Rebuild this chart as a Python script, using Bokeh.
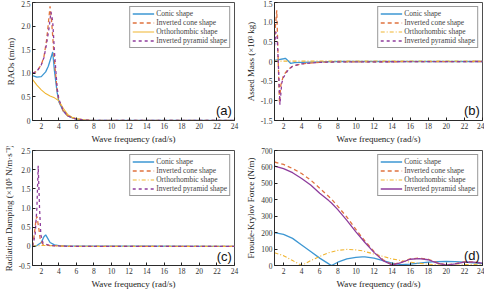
from bokeh.plotting import figure
from bokeh.layouts import gridplot
from bokeh.models import Legend, LegendItem, Range1d, FixedTicker, CustomJSTickFormatter, Label
from bokeh.embed import file_html
from bokeh.resources import INLINE

# ---------------- data ----------------
series_names = ["Conic shape", "Inverted cone shape", "Orthorhombic shape", "Inverted pyramid shape"]
colors = ["#3d97d3", "#e0733f", "#f0b530", "#8e3c9c"]

# (a) RAOs
a_conic_x = [1, 1.5, 2, 2.5, 2.8, 3.1, 3.3, 3.5, 3.8, 4, 4.5, 5, 5.5, 6, 7, 8, 10, 24]
a_conic_y = [0.95, 0.92, 0.93, 1.03, 1.15, 1.33, 1.45, 1.05, 0.6, 0.4, 0.2, 0.1, 0.06, 0.03, 0.01, 0.0, 0.0, 0.0]
a_icone_x = [1, 1.5, 2, 2.3, 2.6, 2.8, 3.0, 3.2, 3.5, 3.8, 4, 4.5, 5, 5.5, 6, 7, 8, 24]
a_icone_y = [1.0, 1.04, 1.18, 1.35, 1.7, 2.05, 2.42, 2.05, 1.25, 0.65, 0.42, 0.2, 0.1, 0.06, 0.03, 0.01, 0.0, 0.0]
a_ortho_x = [1, 1.5, 2, 2.5, 3, 3.5, 4, 4.5, 5, 5.5, 6, 7, 8, 24]
a_ortho_y = [0.87, 0.75, 0.65, 0.57, 0.52, 0.48, 0.42, 0.26, 0.13, 0.07, 0.04, 0.01, 0.0, 0.0]
a_pyr_x = [1, 1.5, 2, 2.3, 2.6, 2.9, 3.1, 3.3, 3.5, 3.8, 4, 4.5, 5, 5.5, 6, 7, 8, 24]
a_pyr_y = [1.0, 1.04, 1.18, 1.33, 1.62, 1.98, 2.3, 2.1, 1.45, 0.7, 0.45, 0.21, 0.1, 0.06, 0.03, 0.01, 0.0, 0.0]

# (b) Added mass
b_conic_x = [1, 1.5, 2, 2.2, 2.5, 2.8, 3.2, 4, 6, 8, 24]
b_conic_y = [0.03, 0.05, 0.07, 0.08, 0.02, -0.05, -0.03, -0.02, -0.01, 0.0, 0.0]
b_icone_x = [1, 1.1, 1.25, 1.35, 1.45, 1.55, 1.7, 2, 2.5, 3, 4, 6, 8, 24]
b_icone_y = [0.5, 0.9, 1.3, 0.5, -0.3, -1.05, -0.6, -0.35, -0.2, -0.12, -0.06, -0.02, -0.01, 0.0]
b_ortho_x = [1, 2, 4, 8, 24]
b_ortho_y = [0.01, 0.01, 0.01, 0.01, 0.01]
b_pyr_x = [1, 1.15, 1.3, 1.45, 1.6, 1.8, 2, 2.5, 3, 4, 6, 8, 24]
b_pyr_y = [0.4, 0.75, 0.6, -0.2, -1.1, -0.55, -0.4, -0.22, -0.12, -0.06, -0.02, -0.01, 0.0]

# (c) Radiation damping
c_conic_x = [1, 1.5, 2, 2.3, 2.5, 2.7, 3, 3.5, 4, 5, 24]
c_conic_y = [0.0, 0.02, 0.1, 0.25, 0.3, 0.22, 0.1, 0.04, 0.02, 0.01, 0.0]
c_icone_x = [1, 1.2, 1.4, 1.5, 1.7, 1.9, 2.2, 3, 5, 24]
c_icone_y = [0.0, 0.3, 0.7, 0.78, 0.5, 0.15, 0.05, 0.02, 0.0, 0.0]
c_ortho_x = [1, 2, 3, 4, 6, 24]
c_ortho_y = [0.01, 0.02, 0.02, 0.01, 0.0, 0.0]
c_pyr_x = [1, 1.3, 1.5, 1.65, 1.8, 1.95, 2.2, 3, 5, 24]
c_pyr_y = [0.0, 0.3, 1.0, 2.1, 1.0, 0.3, 0.08, 0.02, 0.0, 0.0]

# (d) Froude-Krylov force
d_x = [1, 2, 3, 4, 5, 6, 7, 7.3, 8, 9, 10, 10.7, 11, 12, 13, 14, 15, 16, 17, 18, 19, 20, 21, 22, 23, 24]
d_conic_y = [200, 190, 165, 125, 85, 45, 10, 0, 20, 40, 50, 53, 52, 45, 30, 15, 5, 8, 15, 20, 24, 25, 24, 20, 16, 12]
d_icone_y = [630, 615, 590, 560, 520, 470, 420, 405, 360, 295, 220, 170, 150, 85, 35, 5, 20, 40, 45, 38, 18, 3, 12, 22, 22, 15]
d_ortho_y = [78, 60, 30, 0, 30, 55, 78, 82, 92, 98, 95, 90, 85, 70, 55, 40, 30, 20, 13, 8, 4, 1, 2, 5, 7, 8]
d_pyr_y = [605, 590, 565, 530, 490, 440, 395, 380, 340, 275, 205, 160, 140, 80, 30, 3, 18, 38, 42, 35, 15, 2, 10, 20, 20, 15]

FONT = "Liberation Serif"


def make_fig(w, h, ylo, yhi, ystep, ylabel, bl, br, bt, bb, fmt_one_decimal=True):
    p = figure(width=w, height=h, output_backend="svg", toolbar_location=None,
               x_range=Range1d(1, 24), y_range=Range1d(ylo, yhi),
               min_border_left=bl, min_border_right=br, min_border_top=bt, min_border_bottom=bb)
    p.xgrid.visible = False
    p.ygrid.visible = False
    p.outline_line_color = "#222222"
    p.outline_line_width = 0.8
    p.background_fill_color = "white"
    p.border_fill_color = "white"
    p.xaxis.ticker = FixedTicker(ticks=list(range(2, 25, 2)))
    n = int(round((yhi - ylo) / ystep))
    p.yaxis.ticker = FixedTicker(ticks=[ylo + i * ystep for i in range(n + 1)])
    if fmt_one_decimal:
        p.yaxis.formatter = CustomJSTickFormatter(code="return Math.abs(tick) < 1e-9 ? '0' : tick.toFixed(1);")
    for ax in (p.xaxis[0], p.yaxis[0]):
        ax.major_tick_in = 3
        ax.major_tick_out = 0
        ax.minor_tick_in = 0
        ax.minor_tick_out = 0
        ax.axis_line_color = "#222222"
        ax.axis_line_width = 0.8
        ax.major_tick_line_color = "#222222"
        ax.major_label_text_font = FONT
        ax.major_label_text_font_size = "7.5px"
        ax.major_label_text_color = "#333333"
        ax.major_label_standoff = 2
        ax.axis_label_text_font = FONT
        ax.axis_label_text_font_size = "9px"
        ax.axis_label_text_font_style = "normal"
        ax.axis_label_text_color = "#222222"
        ax.axis_label_standoff = 2
    p.xaxis.axis_label = "Wave frequency (rad/s)"
    p.yaxis.axis_label = ylabel
    return p


def add_legend(p, renderers):
    items = [LegendItem(label=n, renderers=[r]) for n, r in zip(series_names, renderers)]
    leg = Legend(items=items, location="top_right")
    leg.label_text_font = FONT
    leg.label_text_font_size = "7.5px"
    leg.label_height = 7
    leg.glyph_height = 7
    leg.glyph_width = 22
    leg.spacing = 0
    leg.padding = 2
    leg.margin = 4
    leg.label_standoff = 2
    leg.border_line_color = "#333333"
    leg.border_line_width = 1
    leg.background_fill_alpha = 1
    p.add_layout(leg)


def add_tag(p, txt, y):
    p.add_layout(Label(x=23.7, y=y, text=txt, text_align="right", text_baseline="bottom",
                       text_font="Liberation Sans", text_font_size="13px", text_color="#111111"))


W = 242
LW = 1.3
# (a)
pa = make_fig(W, 146, 0, 2.5, 0.5, "RAOs (m/m)", 26, 8, 2, 22)
ra = [
    pa.line(a_conic_x, a_conic_y, color=colors[0], line_width=LW),
    pa.line(a_icone_x, a_icone_y, color=colors[1], line_width=LW, line_dash="4 3"),
    pa.line(a_ortho_x, a_ortho_y, color=colors[2], line_width=1.1),
    pa.line(a_pyr_x, a_pyr_y, color=colors[3], line_width=LW, line_dash="3 3"),
]
add_legend(pa, ra)
add_tag(pa, "(a)", 0.06)

# (b)
pb = make_fig(W, 146, -1.5, 1.5, 0.5, "Assed Mass (×10³ kg)", 26, 2, 2, 22)
rb = [
    pb.line(b_conic_x, b_conic_y, color=colors[0], line_width=LW),
    pb.line(b_icone_x, b_icone_y, color=colors[1], line_width=LW, line_dash="4 3"),
    pb.line(b_ortho_x, b_ortho_y, color=colors[2], line_width=1.1, line_dash="4 2 1 2"),
    pb.line(b_pyr_x, b_pyr_y, color=colors[3], line_width=LW, line_dash="3 3"),
]
add_legend(pb, rb)
add_tag(pb, "(b)", -1.43)

# (c)
pc = make_fig(W, 145, -0.5, 2.5, 0.5, "Radiation Damping (×10⁵ N/m·s⁻¹)", 26, 8, 4, 22)
rc = [
    pc.line(c_conic_x, c_conic_y, color=colors[0], line_width=LW),
    pc.line(c_icone_x, c_icone_y, color=colors[1], line_width=LW, line_dash="4 3"),
    pc.line(c_ortho_x, c_ortho_y, color=colors[2], line_width=1.1, line_dash="4 2 1 2"),
    pc.line(c_pyr_x, c_pyr_y, color=colors[3], line_width=LW, line_dash="3 3"),
]
add_legend(pc, rc)
add_tag(pc, "(c)", -0.45)

# (d)
pd_ = make_fig(W, 145, 0, 700, 100, "Froude-Krylov Force (N/m)", 26, 2, 4, 22, fmt_one_decimal=False)
rd = [
    pd_.line(d_x, d_conic_y, color=colors[0], line_width=LW),
    pd_.line(d_x, d_icone_y, color=colors[1], line_width=LW, line_dash="4 3"),
    pd_.line(d_x, d_ortho_y, color=colors[2], line_width=1.1, line_dash="4 2 1 2"),
    pd_.line(d_x, d_pyr_y, color=colors[3], line_width=LW),
]
add_legend(pd_, rd)
add_tag(pd_, "(d)", 15)

grid = gridplot([[pa, pb], [pc, pd_]], toolbar_location=None)

open("out.html", "w").write(file_html(grid, INLINE))
